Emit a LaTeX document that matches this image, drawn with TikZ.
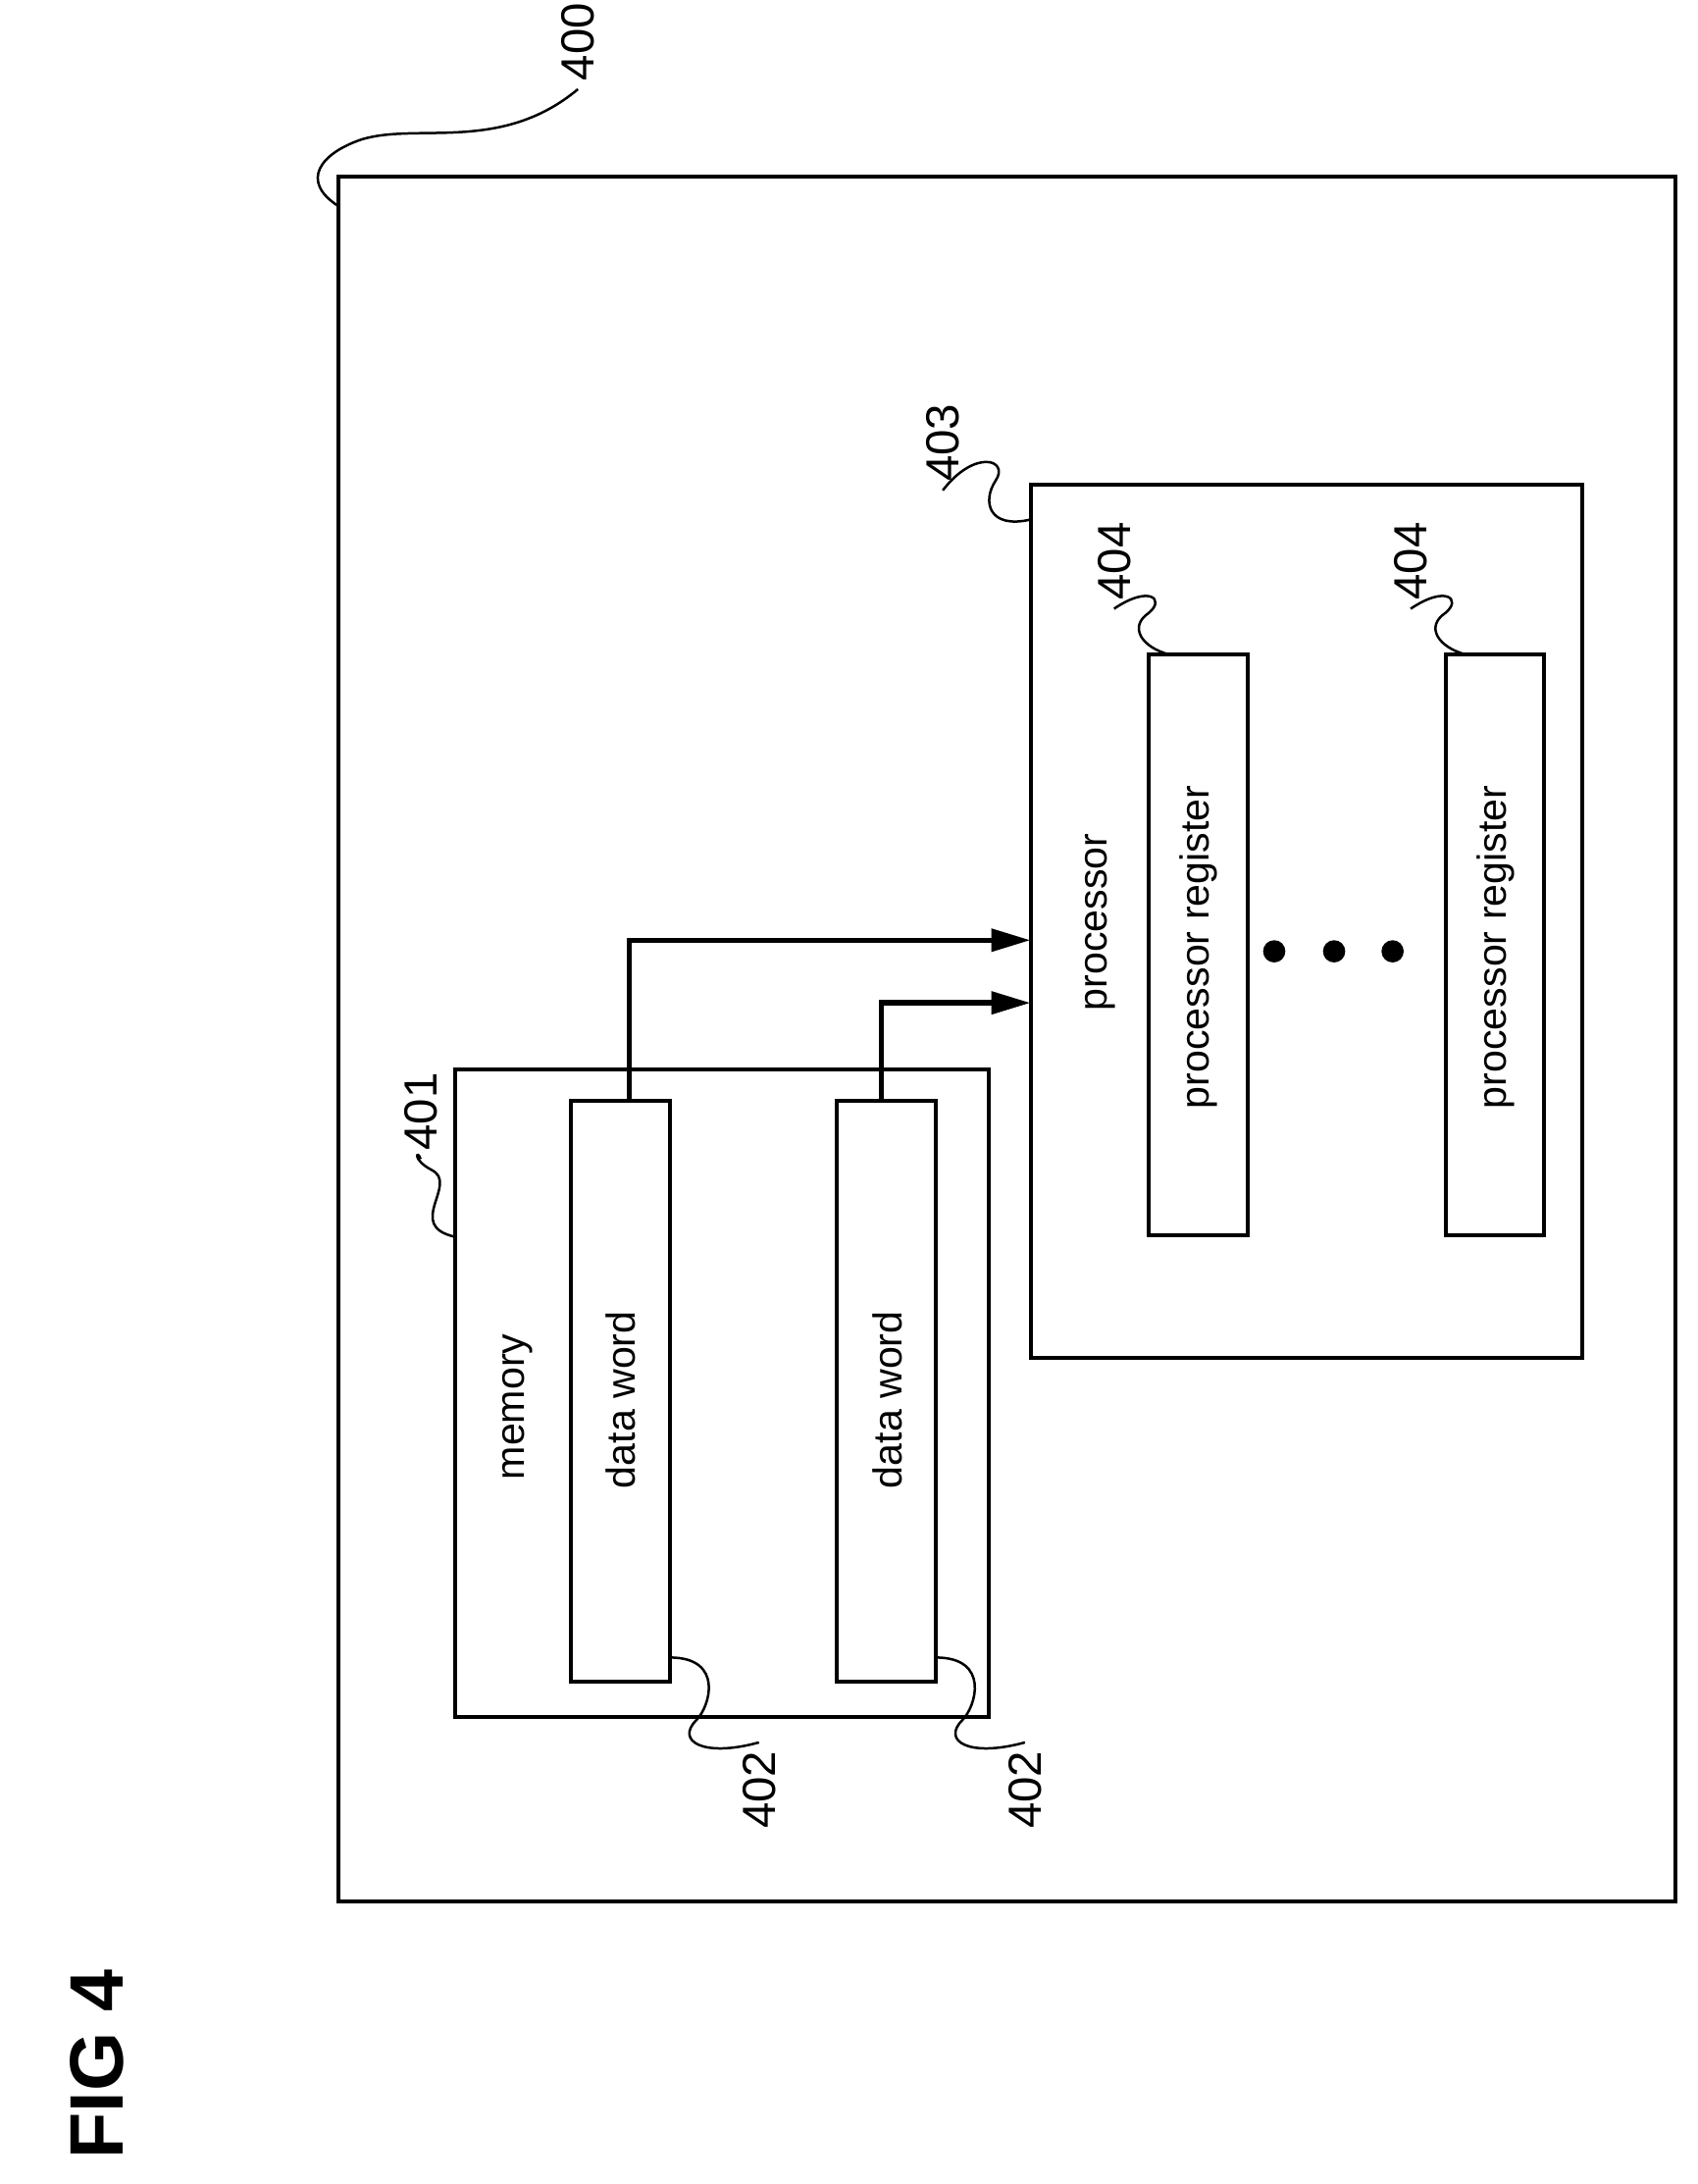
\documentclass[tikz,border=0pt]{standalone}
\usepackage{fontspec}
\setmainfont{Liberation Sans}
\usetikzlibrary{arrows.meta}

\tikzset{
    box/.style={draw,line width=1.6pt},
    lbl/.style={rotate=90,font=\fontsize{16.5}{18}\selectfont},
    ref/.style={rotate=90,font=\fontsize{19}{21}\selectfont},
    lead/.style={line width=1pt},
    link/.style={line width=2.2pt,-{Triangle[length=16pt,width=9pt]}}
}

\begin{document}
\begin{tikzpicture}[x=0.02cm,y=-0.02cm]
    \useasboundingbox (0,0) rectangle (1219,1568);

    % outer device
    \draw[box] (243,127) rectangle (1203,1365);
    \node[ref] (n400) at (415,30) {400};
    \coordinate (c400) at (243,148);
    \draw[lead] (c400) .. controls (215,130) and (230,110) .. (260,100) .. controls (300,88) and (360,110) .. (n400.west);

    % memory
    \draw[box] (327,768) rectangle (710,1233);
    \node[lbl] (mem) at (372,1010) {memory};
    \node[ref] (n401) at (302,798) {401};
    \coordinate (c401) at (327,888);
    \draw[lead] (c401) .. controls (290,880) and (330,850) .. (310,840) .. controls (295,832) and (300,825) .. (n401.west);

    \foreach \i/\x in {1/410,2/601} {
        \draw[box] (\x,790) rectangle ++(71,417);
        \node[lbl] (dw_\i) at (\x+36,1005) {data word};
        \node[ref] (n402_\i) at (\x+135,1285) {402};
        \coordinate (c402_\i) at (\x+71,1190);
        \draw[lead] (c402_\i) .. controls (\x+110,1190) and (\x+100,1225) .. (\x+90,1235) .. controls (\x+75,1250) and (\x+95,1262) .. (n402_\i.east);
    }

    % processor
    \draw[box] (740,348) rectangle (1136,975);
    \node[lbl] (proc) at (790,662) {processor};
    \node[ref] (n403) at (677,318) {403};
    \coordinate (c403) at (740,373);
    \draw[lead] (c403) .. controls (710,380) and (705,360) .. (715,345) .. controls (725,330) and (700,322) .. (n403.west);

    \foreach \i/\x in {1/825,2/1038} {
        \draw[box] (\x,470) rectangle ++(71,417);
        \node[lbl] (reg_\i) at (\x+36,680) {processor register};
        \node[ref] (n404_\i) at (\x-25,403) {404};
        \coordinate (c404_\i) at (\x+15,470);
        \draw[lead] (c404_\i) .. controls (\x-5,465) and (\x-15,450) .. (\x,440) .. controls (\x+12,430) and (\x,420) .. (n404_\i.west);
    }

    \foreach \x in {915,958,1000}
        \fill (\x,683) circle (8);

    % connections
    \coordinate (w1) at (452,790);
    \coordinate (w2) at (633,790);
    \coordinate (p1) at (740,675);
    \coordinate (p2) at (740,720);
    \draw[link] (w1) |- (p1);
    \draw[link] (w2) |- (p2);

    \node[rotate=90,font=\bfseries\fontsize{31}{34}\selectfont] (fig) at (70,1482) {FIG 4};
\end{tikzpicture}
\end{document}
